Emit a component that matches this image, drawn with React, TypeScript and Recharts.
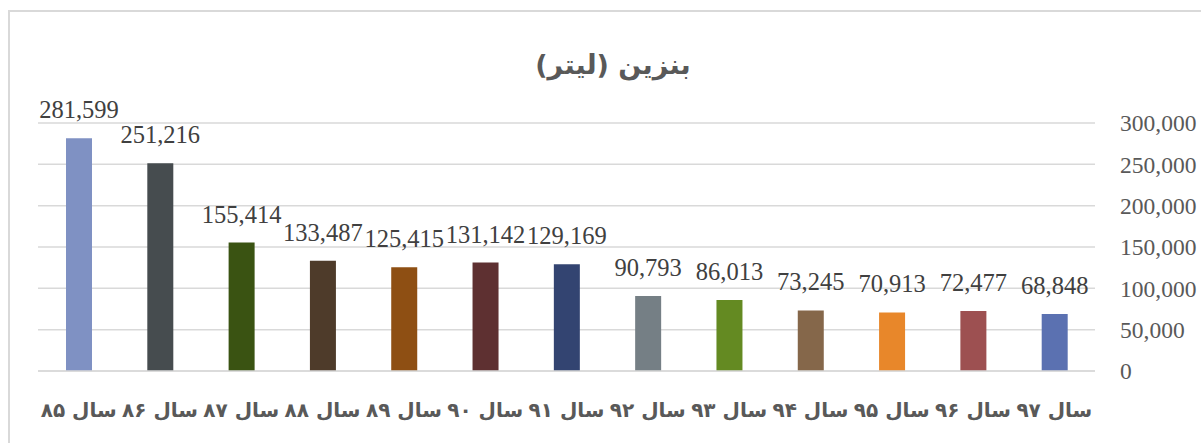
import React from "react";
import { BarChart, Bar, XAxis, YAxis, CartesianGrid, Cell, LabelList } from "recharts";

const years = [
  "سال ۸۵",
  "سال ۸۶",
  "سال ۸۷",
  "سال ۸۸",
  "سال ۸۹",
  "سال ۹۰",
  "سال ۹۱",
  "سال ۹۲",
  "سال ۹۳",
  "سال ۹۴",
  "سال ۹۵",
  "سال ۹۶",
  "سال ۹۷",
];
const litres = [281599, 251216, 155414, 133487, 125415, 131142, 129169, 90793, 86013, 73245, 70913, 72477, 68848];
const yTicks = [0, 50000, 100000, 150000, 200000, 250000, 300000];

const palette = [
  "#7f91c3",
  "#464c4f",
  "#3a5312",
  "#4e3b2a",
  "#8e4f13",
  "#5e3031",
  "#334471",
  "#757f85",
  "#648a22",
  "#85674a",
  "#e8872a",
  "#9d5051",
  "#5b71b1",
];

const data = years.map((year, i) => ({ year, litres: litres[i] }));

const fmt = (v: number) => Number(v).toLocaleString("en-US");

const XTick = (props: any) => {
  const { x, y, payload } = props;
  return (
    <text
      x={x}
      y={y + 44}
      textAnchor="middle"
      direction="rtl"
      fontFamily="'DejaVu Sans', sans-serif"
      fontWeight="bold"
      fontSize={20}
      fill="#595959"
    >
      {payload.value}
    </text>
  );
};

export default function App() {
  return (
    <div style={{ position: "absolute", left: 0, top: 0, width: 1201, height: 443, background: "#fff", overflow: "hidden" }}>
      <div
        style={{
          position: "absolute",
          left: 8,
          top: 10,
          width: 1210,
          height: 450,
          border: "2px solid #d9d9d9",
          boxSizing: "border-box",
        }}
      />
      <svg width={1201} height={443} style={{ position: "absolute", left: 0, top: 0 }}>
        <text
          x={613}
          y={74}
          textAnchor="middle"
          direction="rtl"
          fontFamily="'DejaVu Sans', sans-serif"
          fontWeight="bold"
          fontSize={27}
          fill="#595959"
        >
          بنزین (لیتر)
        </text>
      </svg>
      <div style={{ position: "absolute", left: 0, top: 0 }}>
        <BarChart width={1201} height={443} data={data} margin={{ top: 123, right: 0, bottom: 0, left: 38 }}>
          <CartesianGrid vertical={false} stroke="#d9d9d9" strokeWidth={1.5} />
          <XAxis
            dataKey="year"
            height={72}
            axisLine={{ stroke: "#d9d9d9", strokeWidth: 1.5 }}
            tickLine={false}
            tickSize={0}
            tick={<XTick />}
            interval={0}
          />
          <YAxis
            orientation="right"
            width={106}
            domain={[0, 300000]}
            ticks={yTicks}
            tickFormatter={fmt}
            axisLine={false}
            tickLine={false}
            tickSize={0}
            tickMargin={25}
            tick={{ fontFamily: "'Liberation Serif', serif", fontSize: 23.5, fill: "#595959", textAnchor: "start" }}
          />
          <Bar dataKey="litres" barSize={26} isAnimationActive={false}>
            {data.map((d, i) => (
              <Cell key={d.year} fill={palette[i]} />
            ))}
            <LabelList
              dataKey="litres"
              position="top"
              offset={20}
              formatter={(v: any) => fmt(v)}
              style={{ fontFamily: "'Liberation Serif', serif", fontSize: 24.5, fill: "#404040" }}
            />
          </Bar>
        </BarChart>
      </div>
    </div>
  );
}
